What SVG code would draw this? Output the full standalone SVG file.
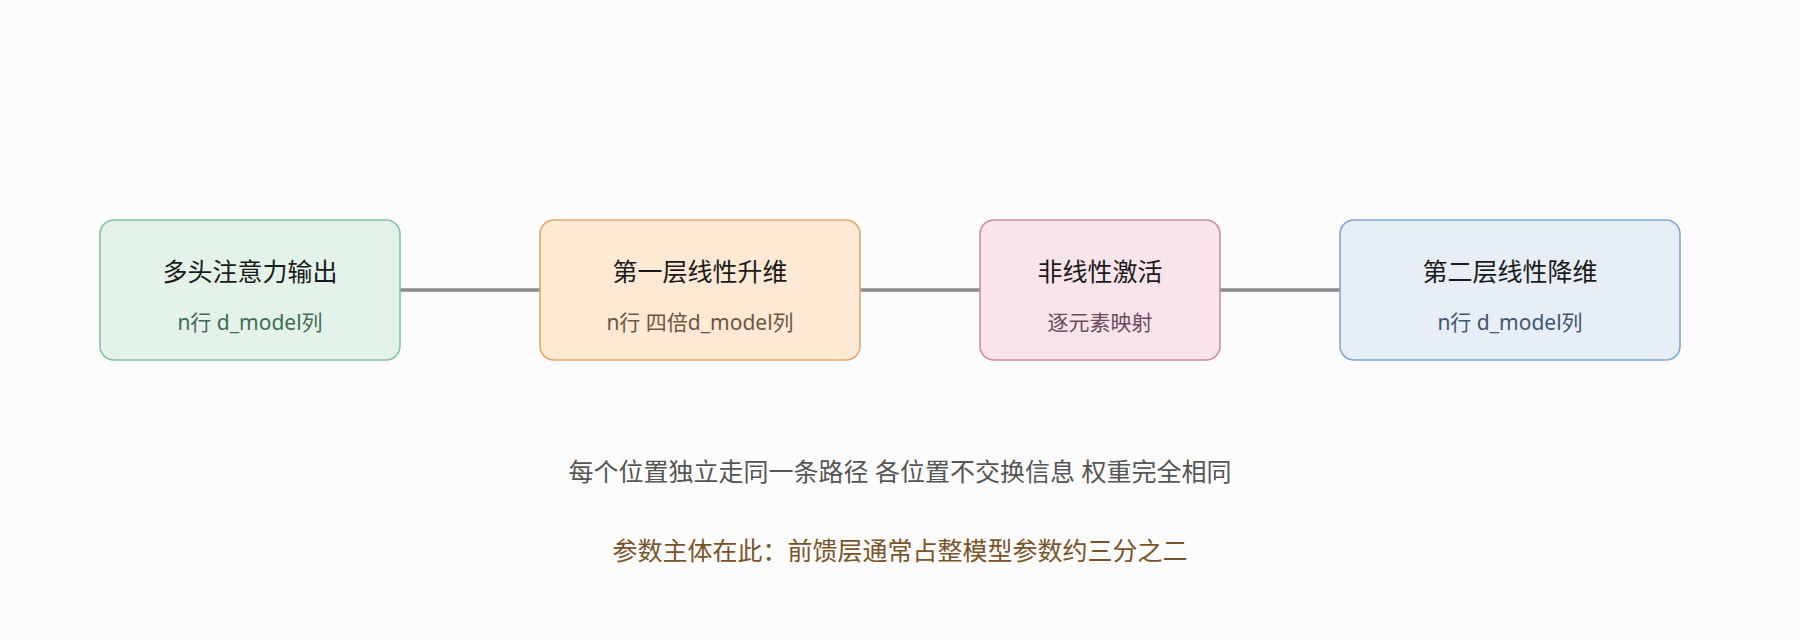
<svg xmlns="http://www.w3.org/2000/svg" width="1800" height="640" viewBox="0 0 1800 640">
<style>
.t{font-family:"Noto Sans","Noto Sans CJK SC",sans-serif;font-size:25px;fill:#1a1a1a;text-anchor:middle}
.s{font-family:"Noto Sans","Noto Sans CJK SC",sans-serif;font-size:21px;text-anchor:middle}
.b{font-family:"Noto Sans","Noto Sans CJK SC",sans-serif;font-size:25px;text-anchor:middle}
.c{stroke:#8a8a8a;stroke-width:3.5;fill:none}
</style>
<rect width="1800" height="640" fill="#fdfcfc"/>
<g id="connectors">
<line class="c" x1="400" y1="290" x2="540" y2="290"/>
<line class="c" x1="860" y1="290" x2="980" y2="290"/>
<line class="c" x1="1220" y1="290" x2="1340" y2="290"/>
</g>
<g id="n1"><rect x="100" y="220" width="300" height="140" rx="14" fill="#e4f3e9" stroke="#80c4a2" stroke-width="1.6"/>
<text class="t" x="250" y="281">多头注意力输出</text><text class="s" x="250" y="330" fill="#3f6d52">n行 d_model列</text></g>
<g id="n2"><rect x="540" y="220" width="320" height="140" rx="14" fill="#fde9d4" stroke="#e8a66c" stroke-width="1.6"/>
<text class="t" x="700" y="281">第一层线性升维</text><text class="s" x="700" y="330" fill="#6e5640">n行 四倍d_model列</text></g>
<g id="n3"><rect x="980" y="220" width="240" height="140" rx="14" fill="#f8e4ea" stroke="#c98caa" stroke-width="1.6"/>
<text class="t" x="1100" y="281">非线性激活</text><text class="s" x="1100" y="330" fill="#6e4a5c">逐元素映射</text></g>
<g id="n4"><rect x="1340" y="220" width="340" height="140" rx="14" fill="#e7eef7" stroke="#80a7d3" stroke-width="1.6"/>
<text class="t" x="1510" y="281">第二层线性降维</text><text class="s" x="1510" y="330" fill="#3f5670">n行 d_model列</text></g>
<text class="b" x="900" y="481" fill="#555555">每个位置独立走同一条路径 各位置不交换信息 权重完全相同</text>
<text class="b" x="900" y="560" fill="#7a5428">参数主体在此：前馈层通常占整模型参数约三分之二</text>
</svg>
